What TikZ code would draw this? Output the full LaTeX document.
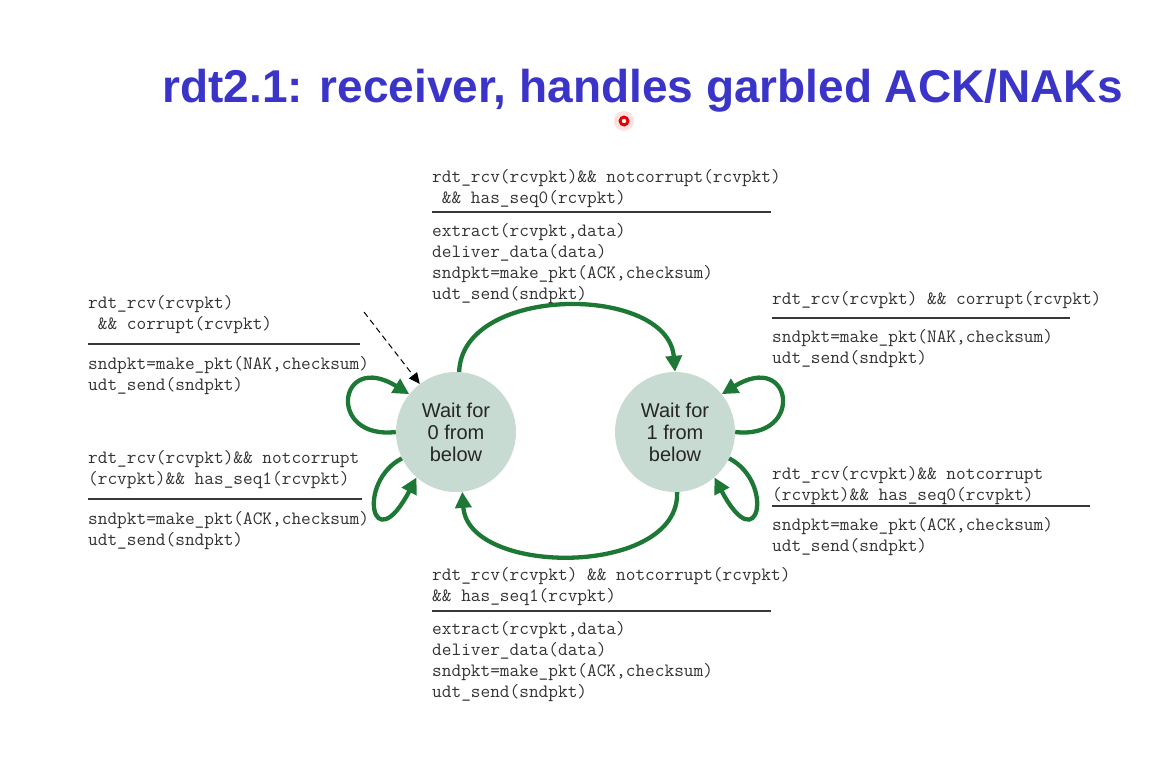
\documentclass[tikz,border=0pt]{standalone}
\usepackage{fontspec}
\setmainfont{Liberation Sans}
\newcommand\codefont{\ttfamily}
\usetikzlibrary{arrows.meta}

\definecolor{titleblue}{RGB}{58,52,200}
\definecolor{fsmgreen}{RGB}{28,120,52}
\definecolor{statefill}{RGB}{200,219,210}
\definecolor{codegray}{RGB}{50,50,50}
\definecolor{rulegray}{RGB}{55,55,55}

\tikzset{
  x=1pt, y=-1pt,
  title/.style={font=\fontsize{46}{52}\selectfont\bfseries, text=titleblue, inner sep=0},
  code/.style={font=\codefont\fontsize{18.8}{21}\selectfont, text=codegray, inner sep=0, anchor=base west},
  rulex/.style={draw=rulegray, line width=1.3pt},
  state/.style={circle, fill=statefill, minimum size=120pt, inner sep=0, align=center,
                font=\fontsize{20}{22}\selectfont, text=black!85},
  trans/.style={draw=fsmgreen, line width=4.3pt, -{Triangle[length=16pt,width=16pt]}},
  initarrow/.style={draw=black, line width=1pt, dash pattern=on 6pt off 4pt,
                    -{Triangle[length=11pt,width=10pt]}},
}

\begin{document}
\begin{tikzpicture}
  \useasboundingbox (0,0) rectangle (1166,779);

  % heading and pointer mark
  \node[title] (title) at (642.5,91) {rdt2.1: receiver, handles garbled ACK/NAKs};
  \fill[red!20, opacity=0.6] (624,121) circle (10);
  \fill[red!90!black] (624,121) circle (5.5);
  \fill[white] (624,121) circle (2.2);

  % states
  \node[state] (c0) at (456,432) {Wait for\\0 from\\below};
  \node[state] (c1) at (675,432) {Wait for\\1 from\\below};

  % initial transition
  \coordinate (init) at (364,312);
  \draw[initarrow] (init) -- (c0.127);

  % transitions between the states
  \draw[trans] (c0.87) .. controls (462,284) and (668,284) .. (c1.90);
  \draw[trans] (c1.-88) .. controls (680,577) and (468,577) .. (c0.-84);

  % self loops
  \draw[trans] (c0.180) .. controls (326,440) and (338,350) .. (c0.141);
  \draw[trans] (c0.206) .. controls (356,482) and (372,562) .. (c0.229);
  \draw[trans] (c1.0) .. controls (805,440) and (793,350) .. (c1.39);
  \draw[trans] (c1.-26) .. controls (775,482) and (759,562) .. (c1.-49);

  % top label: 0 -> 1
  \foreach \t [count=\i from 0] in
    {{rdt\_rcv(rcvpkt)\&\& notcorrupt(rcvpkt)}, {\ \&\& has\_seq0(rcvpkt)}}
    \node[code] (tg\i) at (432,{182+21*\i}) {\t};
  \draw[rulex] (432,212) -- (771,212);
  \foreach \t [count=\i from 0] in
    {{extract(rcvpkt,data)}, {deliver\_data(data)}, {sndpkt=make\_pkt(ACK,checksum)}, {udt\_send(sndpkt)}}
    \node[code] (ta\i) at (432,{236+21*\i}) {\t};

  % left upper label: corrupt in state 0
  \foreach \t [count=\i from 0] in
    {{rdt\_rcv(rcvpkt)}, {\ \&\& corrupt(rcvpkt)}}
    \node[code] (lug\i) at (88,{308+21*\i}) {\t};
  \draw[rulex] (88,344) -- (360,344);
  \foreach \t [count=\i from 0] in
    {{sndpkt=make\_pkt(NAK,checksum)}, {udt\_send(sndpkt)}}
    \node[code] (lua\i) at (88,{369+21*\i}) {\t};

  % left lower label: duplicate seq1 in state 0
  \foreach \t [count=\i from 0] in
    {{rdt\_rcv(rcvpkt)\&\& notcorrupt}, {(rcvpkt)\&\& has\_seq1(rcvpkt)}}
    \node[code] (llg\i) at (88,{463+21*\i}) {\t};
  \draw[rulex] (88,499) -- (362,499);
  \foreach \t [count=\i from 0] in
    {{sndpkt=make\_pkt(ACK,checksum)}, {udt\_send(sndpkt)}}
    \node[code] (lla\i) at (88,{524+21*\i}) {\t};

  % right upper label: corrupt in state 1
  \node[code] (rug0) at (772,304) {rdt\_rcv(rcvpkt) \&\& corrupt(rcvpkt)};
  \draw[rulex] (772,318) -- (1070,318);
  \foreach \t [count=\i from 0] in
    {{sndpkt=make\_pkt(NAK,checksum)}, {udt\_send(sndpkt)}}
    \node[code] (rua\i) at (772,{342+21*\i}) {\t};

  % right lower label: duplicate seq0 in state 1
  \foreach \t [count=\i from 0] in
    {{rdt\_rcv(rcvpkt)\&\& notcorrupt}, {(rcvpkt)\&\& has\_seq0(rcvpkt)}}
    \node[code] (rlg\i) at (772,{479+21*\i}) {\t};
  \draw[rulex] (772,506) -- (1090,506);
  \foreach \t [count=\i from 0] in
    {{sndpkt=make\_pkt(ACK,checksum)}, {udt\_send(sndpkt)}}
    \node[code] (rla\i) at (772,{530+21*\i}) {\t};

  % bottom label: 1 -> 0
  \foreach \t [count=\i from 0] in
    {{rdt\_rcv(rcvpkt) \&\& notcorrupt(rcvpkt)}, {\&\& has\_seq1(rcvpkt)}}
    \node[code] (bg\i) at (432,{580+21*\i}) {\t};
  \draw[rulex] (432,611) -- (771,611);
  \foreach \t [count=\i from 0] in
    {{extract(rcvpkt,data)}, {deliver\_data(data)}, {sndpkt=make\_pkt(ACK,checksum)}, {udt\_send(sndpkt)}}
    \node[code] (ba\i) at (432,{634+21*\i}) {\t};
\end{tikzpicture}
\end{document}
